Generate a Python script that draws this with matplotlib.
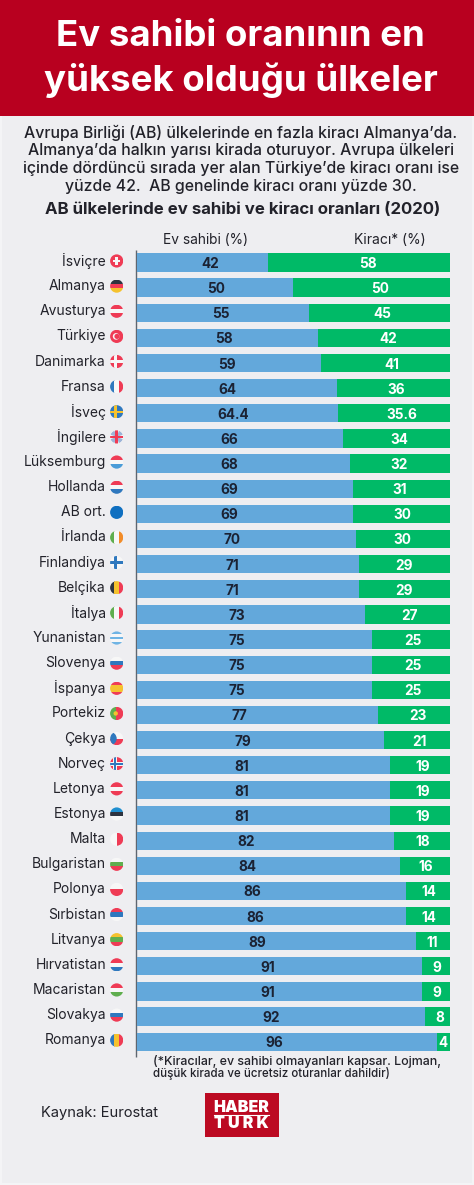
# -*- coding: utf-8 -*-
import matplotlib
matplotlib.use("Agg")
import matplotlib.pyplot as plt
from matplotlib.patches import Circle, Rectangle, Wedge

plt.rcParams["font.family"] = ["Inter", "DejaVu Sans"]

# =========================
# 1. Data
# =========================
COUNTRIES = [
    "İsviçre", "Almanya", "Avusturya", "Türkiye", "Danimarka", "Fransa", "İsveç", "İngilere",
    "Lüksemburg", "Hollanda", "AB ort.", "İrlanda", "Finlandiya", "Belçika", "İtalya",
    "Yunanistan", "Slovenya", "İspanya", "Portekiz", "Çekya", "Norveç", "Letonya", "Estonya",
    "Malta", "Bulgaristan", "Polonya", "Sırbistan", "Litvanya", "Hırvatistan", "Macaristan",
    "Slovakya", "Romanya",
]
OWNERS = [42, 50, 55, 58, 59, 64, 64.4, 66, 68, 69, 69, 70, 71, 71, 73, 75, 75, 75, 77, 79,
          81, 81, 81, 82, 84, 86, 86, 89, 91, 91, 92, 96]
RENTERS = [58, 50, 45, 42, 41, 36, 35.6, 34, 32, 31, 30, 30, 29, 29, 27, 25, 25, 25, 23, 21,
           19, 19, 19, 18, 16, 14, 14, 11, 9, 9, 8, 4]
# the AB ort. bar is labelled 30 but is drawn full width in the original
RENTER_BARS = [58, 50, 45, 42, 41, 36, 35.6, 34, 32, 31, 31, 30, 29, 29, 27, 25, 25, 25, 23, 21,
               19, 19, 19, 18, 16, 14, 14, 11, 9, 9, 8, 4]

PARAGRAPH = [
    "Avrupa Birliği (AB) ülkelerinde en fazla kiracı Almanya’da.",
    "Almanya’da halkın yarısı kirada oturuyor. Avrupa ülkeleri",
    "içinde dördüncü sırada yer alan Türkiye’de kiracı oranı ise",
    "yüzde 42.  AB genelinde kiracı oranı yüzde 30.",
]

# =========================
# 2. Layout (pixels of the 474x1185 picture)
# =========================
W, H = 474, 1185
BAR_LEFT, BAR_RIGHT = 136.5, 450.0
ROWS_TOP, ROWS_BOTTOM = 249.9, 1054.3

# the value labels do not sit in the middle of their segments in the original
OWNER_LABEL_PX = [210, 216, 221.3, 224, 226.7, 227, 233.3, 229.7, 229.7, 229.7, 229.7, 231.7,
                  232.7, 232.7, 237, 237, 237, 237, 239.3, 242.7, 242, 242, 242, 246.3, 247,
                  252, 255, 257.7, 267.3, 267.3, 271.3, 274.7]
RENTER_LABEL_PX = [368.3, 380, 382.7, 388, 392.3, 396, 402.3, 399.3, 399, 400, 402, 402, 404.3,
                   404.3, 409.7, 413, 413, 413, 418.3, 419.7, 422.7, 422.7, 422.7, 422.7, 425.7,
                   428.7, 428.7, 432.3, 437.3, 437.3, 440.3, 443.3]

BG = "#EEEEF1"
RED = "#B8001F"
BLUE = "#63A8DB"
GREEN = "#00BA67"
DARK = "#1B2233"
TEXT = "#22222A"

FLAG_RED = "#EF3B55"
FLAG_BLUE = "#2F78BE"
FLAG_WHITE = "#F7F7F7"
FLAG_GREEN = "#5FAE4E"
FLAG_YELLOW = "#F5C22E"
FLAG_BLACK = "#2E3440"
FLAG_ORANGE = "#F28C28"

# (kind, colours): h = horizontal stripes, v = vertical stripes, c = nordic cross (field, cross)
FLAGS = {
    "İsviçre": ("swiss", [FLAG_RED, FLAG_WHITE]),
    "Almanya": ("h", [FLAG_BLACK, FLAG_RED, FLAG_YELLOW]),
    "Avusturya": ("h", [FLAG_RED, FLAG_WHITE, FLAG_RED]),
    "Türkiye": ("turk", [FLAG_RED, FLAG_WHITE]),
    "Danimarka": ("c", [FLAG_RED, FLAG_WHITE]),
    "Fransa": ("v", [FLAG_BLUE, FLAG_WHITE, FLAG_RED]),
    "İsveç": ("c", [FLAG_BLUE, FLAG_YELLOW]),
    "İngilere": ("uk", [FLAG_WHITE, FLAG_RED, "#9DB4D8"]),
    "Lüksemburg": ("h", [FLAG_RED, FLAG_WHITE, "#4A9CD8"]),
    "Hollanda": ("h", [FLAG_RED, FLAG_WHITE, FLAG_BLUE]),
    "AB ort.": ("h", ["#0F6FC0"]),
    "İrlanda": ("v", [FLAG_GREEN, FLAG_WHITE, FLAG_ORANGE]),
    "Finlandiya": ("c", [FLAG_WHITE, "#2F78BE"]),
    "Belçika": ("v", [FLAG_BLACK, FLAG_YELLOW, FLAG_RED]),
    "İtalya": ("v", [FLAG_GREEN, FLAG_WHITE, FLAG_RED]),
    "Yunanistan": ("h", ["#6FB4E4", FLAG_WHITE, "#6FB4E4", FLAG_WHITE, "#6FB4E4"]),
    "Slovenya": ("h", [FLAG_WHITE, FLAG_BLUE, FLAG_RED]),
    "İspanya": ("h", [FLAG_RED, FLAG_YELLOW, FLAG_YELLOW, FLAG_RED]),
    "Portekiz": ("port", [FLAG_GREEN, FLAG_RED, FLAG_YELLOW]),
    "Çekya": ("czech", [FLAG_WHITE, FLAG_RED, FLAG_BLUE]),
    "Norveç": ("c2", [FLAG_RED, FLAG_WHITE, FLAG_BLUE]),
    "Letonya": ("h", [FLAG_RED, FLAG_WHITE, FLAG_RED]),
    "Estonya": ("h", ["#1F8FD0", FLAG_BLACK, FLAG_WHITE]),
    "Malta": ("v", [FLAG_WHITE, FLAG_RED]),
    "Bulgaristan": ("h", [FLAG_WHITE, FLAG_GREEN, FLAG_RED]),
    "Polonya": ("h", [FLAG_WHITE, FLAG_RED]),
    "Sırbistan": ("h", [FLAG_RED, "#2F78BE", FLAG_WHITE]),
    "Litvanya": ("h", [FLAG_YELLOW, FLAG_GREEN, FLAG_RED]),
    "Hırvatistan": ("h", [FLAG_RED, FLAG_WHITE, FLAG_BLUE]),
    "Macaristan": ("h", [FLAG_RED, FLAG_WHITE, FLAG_GREEN]),
    "Slovakya": ("h", [FLAG_WHITE, "#2F78BE", FLAG_RED]),
    "Romanya": ("v", [FLAG_BLUE, FLAG_YELLOW, FLAG_RED]),
}


def draw_flag(page, name, cx, cy, r=6.6):
    """Flag as simple shapes clipped to a small circle."""
    kind, colors = FLAGS[name]
    clip = Circle((cx, cy), r, transform=page.transData)
    shapes = []

    def box(x0, y0, w, h, color):
        shapes.append(Rectangle((cx + x0, cy + y0), w, h, color=color, lw=0))

    if kind == "h":
        step = 2 * r / len(colors)
        for i, color in enumerate(colors):
            box(-r, -r + i * step, 2 * r, step + 0.05, color)
    elif kind == "v":
        step = 2 * r / len(colors)
        for i, color in enumerate(colors):
            box(-r + i * step, -r, step + 0.05, 2 * r, color)
    elif kind == "swiss":
        box(-r, -r, 2 * r, 2 * r, colors[0])
        box(-3.6, -1.2, 7.2, 2.4, colors[1])
        box(-1.2, -3.6, 2.4, 7.2, colors[1])
    elif kind == "turk":
        box(-r, -r, 2 * r, 2 * r, colors[0])
        shapes.append(Circle((cx - 0.6, cy), 3.3, color=colors[1], lw=0))
        shapes.append(Circle((cx + 0.3, cy), 2.6, color=colors[0], lw=0))
    elif kind == "c":
        box(-r, -r, 2 * r, 2 * r, colors[0])
        box(-r, -1.2, 2 * r, 2.4, colors[1])
        box(-2.6, -r, 2.4, 2 * r, colors[1])
    elif kind == "c2":
        box(-r, -r, 2 * r, 2 * r, colors[0])
        box(-r, -1.8, 2 * r, 3.6, colors[1])
        box(-3.2, -r, 3.6, 2 * r, colors[1])
        box(-r, -0.8, 2 * r, 1.6, colors[2])
        box(-2.2, -r, 1.6, 2 * r, colors[2])
    elif kind == "uk":
        box(-r, -r, 2 * r, 2 * r, colors[0])
        for start in (20, 110, 200, 290):
            shapes.append(Wedge((cx, cy), r, start, start + 50, color=colors[2], lw=0))
        box(-r, -1.3, 2 * r, 2.6, colors[1])
        box(-1.3, -r, 2.6, 2 * r, colors[1])
    elif kind == "czech":
        box(-r, -r, 2 * r, r, colors[0])
        box(-r, 0, 2 * r, r, colors[1])
        shapes.append(Wedge((cx - r, cy), r, -90, 90, color=colors[2], lw=0))
    elif kind == "port":
        box(-r, -r, 2 * r * 0.42, 2 * r, colors[0])
        box(-r + 2 * r * 0.42, -r, 2 * r * 0.58, 2 * r, colors[1])
        shapes.append(Circle((cx - 1.0, cy), 2.2, color=colors[2], lw=0))

    for shape in shapes:
        page.add_patch(shape)
        shape.set_clip_path(clip)


def main():
    fig = plt.figure(figsize=(W / 100, H / 100), dpi=100, facecolor="#F4F4F6")

    # page layer in pixel coordinates, y going down
    page = fig.add_axes([0, 0, 1, 1], zorder=0)
    page.set_xlim(0, W)
    page.set_ylim(H, 0)
    page.axis("off")

    page.add_patch(Rectangle((2, 115), W - 4, H - 117, color=BG, lw=0))
    page.add_patch(Rectangle((0, 0), W, 115.5, color=RED, lw=0))

    page.text(240.5, 37, "Ev sahibi oranının en", color="white", fontsize=26.4,
              fontweight="bold", ha="center", va="center")
    page.text(240.5, 80, "yüksek olduğu ülkeler", color="white", fontsize=26.4,
              fontweight="bold", ha="center", va="center")

    for y, line in zip([132.5, 150.3, 168, 186], PARAGRAPH):
        page.text(241, y, line, color=TEXT, fontsize=11.4, fontweight="medium",
                  ha="center", va="center")

    page.text(243, 210, "AB ülkelerinde ev sahibi ve kiracı oranları (2020)", color=TEXT,
              fontsize=12.1, fontweight="bold", ha="center", va="center")
    page.text(205.5, 240, "Ev sahibi (%)", color=TEXT, fontsize=9.9, ha="center", va="center")
    page.text(389.5, 240, "Kiracı* (%)", color=TEXT, fontsize=10, ha="center", va="center")

    # bars on their own axes so that they go through a real 0-100 scale
    ax = fig.add_axes([BAR_LEFT / W, 1 - ROWS_BOTTOM / H, (BAR_RIGHT - BAR_LEFT) / W,
                       (ROWS_BOTTOM - ROWS_TOP) / H], zorder=1)
    ax.set_xlim(0, 100)
    ax.set_ylim(len(COUNTRIES) - 0.5, -0.5)
    ax.axis("off")
    ax.patch.set_alpha(0)

    rows = list(range(len(COUNTRIES)))
    ax.barh(rows, OWNERS, height=0.725, color=BLUE, lw=0)
    ax.barh(rows, RENTER_BARS, left=OWNERS, height=0.725, color=GREEN, lw=0)

    to_data = lambda px: (px - BAR_LEFT) / (BAR_RIGHT - BAR_LEFT) * 100
    for row in rows:
        ax.text(to_data(OWNER_LABEL_PX[row]), row, f"{OWNERS[row]:g}", color=DARK, fontsize=9.8,
                fontweight="bold", ha="center", va="center_baseline")
        ax.text(to_data(RENTER_LABEL_PX[row]), row, f"{RENTERS[row]:g}", color="white",
                fontsize=9.8, fontweight="bold", ha="center", va="center_baseline")

    # y axis line runs a bit past the last bar
    page.plot([135.7, 135.7], [250, 1057], color="#5F6670", lw=1.0, solid_capstyle="butt")

    step = (ROWS_BOTTOM - ROWS_TOP) / len(COUNTRIES)
    for row, name in enumerate(COUNTRIES):
        cy = ROWS_TOP + (row + 0.5) * step - 1.5
        page.text(106, cy, name, color=TEXT, fontsize=10, ha="right", va="center")
        draw_flag(page, name, 116.7, cy)

    page.text(153, 1061.5, "(*Kiracılar, ev sahibi olmayanları kapsar. Lojman,", color=TEXT,
              fontsize=8.95, fontweight="medium", ha="left", va="center")
    page.text(153, 1074, "düşük kirada ve ücretsiz oturanlar dahildir)", color=TEXT,
              fontsize=8.3, fontweight="medium", ha="left", va="center")
    page.text(41, 1113, "Kaynak: Eurostat", color=TEXT, fontsize=10.6, ha="left", va="center")

    # logo
    page.add_patch(Rectangle((205, 1093), 74, 44, color="#BC0A22", lw=0))
    page.text(241.5, 1107.5, "HABER", color="white", fontsize=11.5, fontweight="black",
              ha="center", va="center")
    page.plot([214, 269], [1115.3, 1115.3], color="white", lw=0.8)
    page.text(241.5, 1123.5, "T U R K", color="white", fontsize=11.5, fontweight="black",
              ha="center", va="center")

    fig.savefig("out.png", dpi=100, facecolor=fig.get_facecolor())
    plt.close(fig)


if __name__ == "__main__":
    main()
